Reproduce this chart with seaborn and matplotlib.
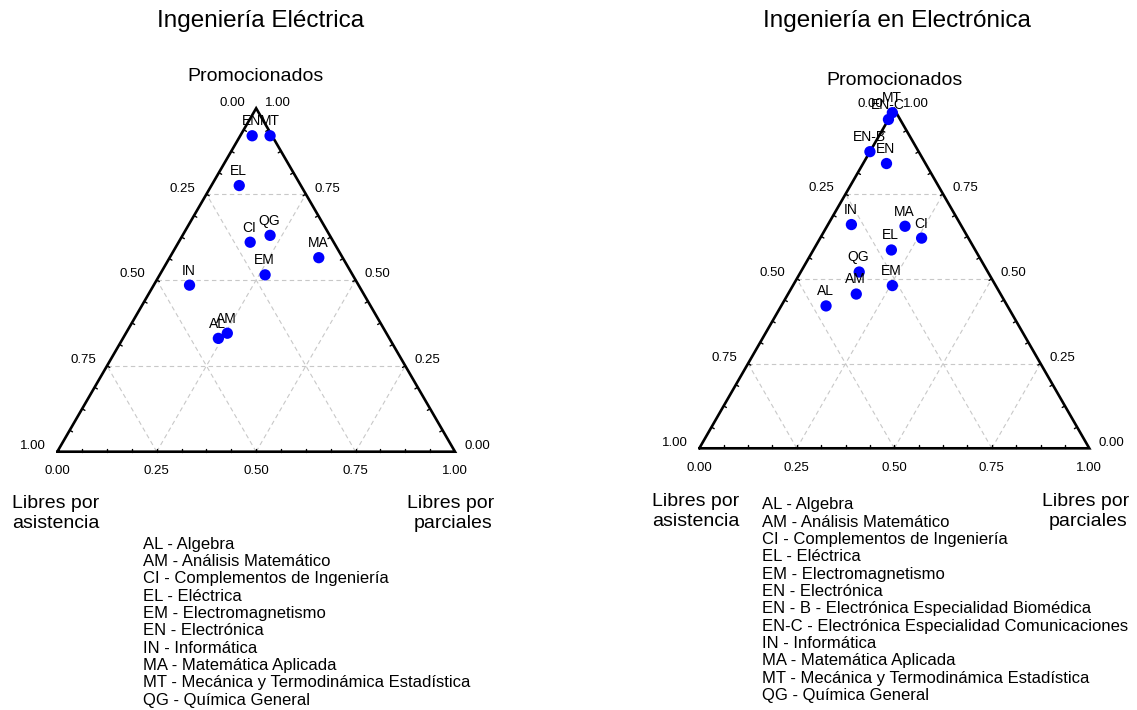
import numpy as np
import pandas as pd
import matplotlib
matplotlib.use("Agg")
import matplotlib.pyplot as plt
import seaborn as sns

sns.set_style("white")
plt.rcParams['font.family'] = ['Liberation Sans', 'DejaVu Sans']
plt.rcParams['text.color'] = 'black'

W_PX, H_PX = 1137, 710
H_TRI = np.sqrt(3) / 2

# ---- data: Ingeniería Eléctrica ----
elec_labels = ['EN', 'MT', 'EL', 'CI', 'QG', 'MA', 'EM', 'IN', 'AM', 'AL']
elec_promocionados = [0.92, 0.92, 0.775, 0.61, 0.63, 0.565, 0.515, 0.485, 0.345, 0.33]
elec_parciales = [0.03, 0.075, 0.07, 0.18, 0.22, 0.375, 0.265, 0.09, 0.255, 0.24]
elec_asistencia = [0.05, 0.005, 0.155, 0.21, 0.15, 0.06, 0.22, 0.425, 0.40, 0.43]

# ---- data: Ingeniería en Electrónica ----
elo_labels = ['MT', 'EN-C', 'EN-B', 'EN', 'IN', 'MA', 'CI', 'EL', 'QG', 'EM', 'AM', 'AL']
elo_promocionados = [0.99, 0.97, 0.875, 0.84, 0.66, 0.655, 0.62, 0.585, 0.52, 0.48, 0.455, 0.42]
elo_parciales = [0.0, 0.0, 0.0, 0.06, 0.06, 0.20, 0.26, 0.20, 0.15, 0.255, 0.175, 0.115]
elo_asistencia = [0.01, 0.03, 0.125, 0.10, 0.28, 0.145, 0.12, 0.215, 0.33, 0.265, 0.37, 0.465]

tick_values = [0.0, 0.25, 0.5, 0.75, 1.0]
grid_values = [0.25, 0.5, 0.75]

elec_legend = [
    'AL - Algebra',
    'AM - Análisis Matemático',
    'CI - Complementos de Ingeniería',
    'EL - Eléctrica',
    'EM - Electromagnetismo',
    'EN - Electrónica',
    'IN - Informática',
    'MA - Matemática Aplicada',
    'MT - Mecánica y Termodinámica Estadística',
    'QG - Química General',
]
elo_legend = [
    'AL - Algebra',
    'AM - Análisis Matemático',
    'CI - Complementos de Ingeniería',
    'EL - Eléctrica',
    'EM - Electromagnetismo',
    'EN - Electrónica',
    'EN - B - Electrónica Especialidad Biomédica',
    'EN-C - Electrónica Especialidad Comunicaciones',
    'IN - Informática',
    'MA - Matemática Aplicada',
    'MT - Mecánica y Termodinámica Estadística',
    'QG - Química General',
]


def fx(x):
    return x / W_PX


def fy(y):
    return 1 - y / H_PX


def to_xy(prom, parc):
    # ternary -> cartesian (base 0..1, apex at 0.5, sqrt(3)/2)
    prom = np.asarray(prom, dtype=float)
    parc = np.asarray(parc, dtype=float)
    return parc + prom / 2, prom * H_TRI


def draw_ternary(fig, box, labels, prom, parc, asis):
    x0, y0, x1, y1 = box
    ax = fig.add_axes([fx(x0), fy(y1), (x1 - x0) / W_PX, (y1 - y0) / H_PX])
    ax.set_xlim(0, 1)
    ax.set_ylim(0, H_TRI)
    ax.axis('off')

    # dashed grid, one line per component at 0.25 / 0.5 / 0.75
    for v in grid_values:
        for pr, pa in [([v, v], [0, 1 - v]),          # promocionados = v
                       ([0, 1 - v], [v, v]),          # parciales = v
                       ([0, 1 - v], [1 - v, 0])]:     # asistencia = v
            gx, gy = to_xy(pr, pa)
            ax.plot(gx, gy, color='#c8c8c8', lw=0.8, ls=(0, (4, 3)), zorder=1)

    # outline
    ax.plot([0, 1, 0.5, 0], [0, 0, H_TRI, 0], color='black', lw=1.9,
            solid_joinstyle='miter', clip_on=False, zorder=2)

    # small inward ticks every 1/16
    tl = 0.008
    for t in np.arange(1, 16) / 16:
        ax.plot([t, t], [0, tl], color='black', lw=1, clip_on=False)
        lx, ly = t / 2, t * H_TRI
        ax.plot([lx, lx + 0.866 * tl], [ly, ly - 0.5 * tl], color='black', lw=1, clip_on=False)
        rx, ry = 1 - t / 2, t * H_TRI
        ax.plot([rx, rx - 0.866 * tl], [ry, ry - 0.5 * tl], color='black', lw=1, clip_on=False)

    # tick labels
    for v in tick_values:
        txt = f'{v:.2f}'
        ax.annotate(txt, (v, 0), xytext=(0, -14), textcoords='offset points',
                    ha='center', va='center', fontsize=9.5, annotation_clip=False)
        ax.annotate(txt, ((1 - v) / 2, (1 - v) * H_TRI), xytext=(-8, 4),
                    textcoords='offset points', ha='right', va='center',
                    fontsize=9.5, annotation_clip=False)
        ax.annotate(txt, (1 - v / 2, v * H_TRI), xytext=(6.5, 4),
                    textcoords='offset points', ha='left', va='center',
                    fontsize=9.5, annotation_clip=False)

    x, y = to_xy(prom, parc)
    df = pd.DataFrame({'label': labels, 'x': x, 'y': y, 'asistencia': asis})
    sns.scatterplot(data=df, x='x', y='y', color='#0000ff', s=66,
                    edgecolor='none', ax=ax, legend=False, zorder=3, clip_on=False)
    for _, r in df.iterrows():
        ax.annotate(r['label'], (r['x'], r['y']), xytext=(-0.5, 10.5),
                    textcoords='offset points', ha='center', va='center',
                    fontsize=10, annotation_clip=False, zorder=4)
    return ax


fig = plt.figure(figsize=(W_PX / 100, H_PX / 100), dpi=100)

draw_ternary(fig, (57.3, 108.3, 455, 451.7), elec_labels,
             elec_promocionados, elec_parciales, elec_asistencia)
draw_ternary(fig, (699.3, 109.3, 1089.3, 448.3), elo_labels,
             elo_promocionados, elo_parciales, elo_asistencia)

# titles and vertex names
fig.text(fx(260.7), fy(21), 'Ingeniería Eléctrica', ha='center', va='center', fontsize=17.5)
fig.text(fx(897), fy(21), 'Ingeniería en Electrónica', ha='center', va='center', fontsize=17.5)

for cx, cy in [(255.3, 76.7), (894.3, 80.7)]:
    fig.text(fx(cx), fy(cy), 'Promocionados', ha='center', va='center', fontsize=14)

for cx, cy in [(56, 503), (695.8, 501.7)]:
    fig.text(fx(cx), fy(cy), 'Libres por', ha='center', va='center', fontsize=14)
    fig.text(fx(cx), fy(cy + 20), 'asistencia', ha='center', va='center', fontsize=14)
for rx, cy in [(494, 503), (1129, 501.7)]:
    fig.text(fx(rx), fy(cy), 'Libres por', ha='right', va='center', fontsize=14)
    fig.text(fx(rx - 2), fy(cy + 20), 'parciales', ha='right', va='center', fontsize=14)

# code legends
for i, line in enumerate(elec_legend):
    fig.text(fx(143.3), fy(544.3 + i * 17.3), line, ha='left', va='center', fontsize=12)
for i, line in enumerate(elo_legend):
    fig.text(fx(762.3), fy(505 + i * 17.3), line, ha='left', va='center', fontsize=12)

fig.savefig('out.png', dpi=100)
